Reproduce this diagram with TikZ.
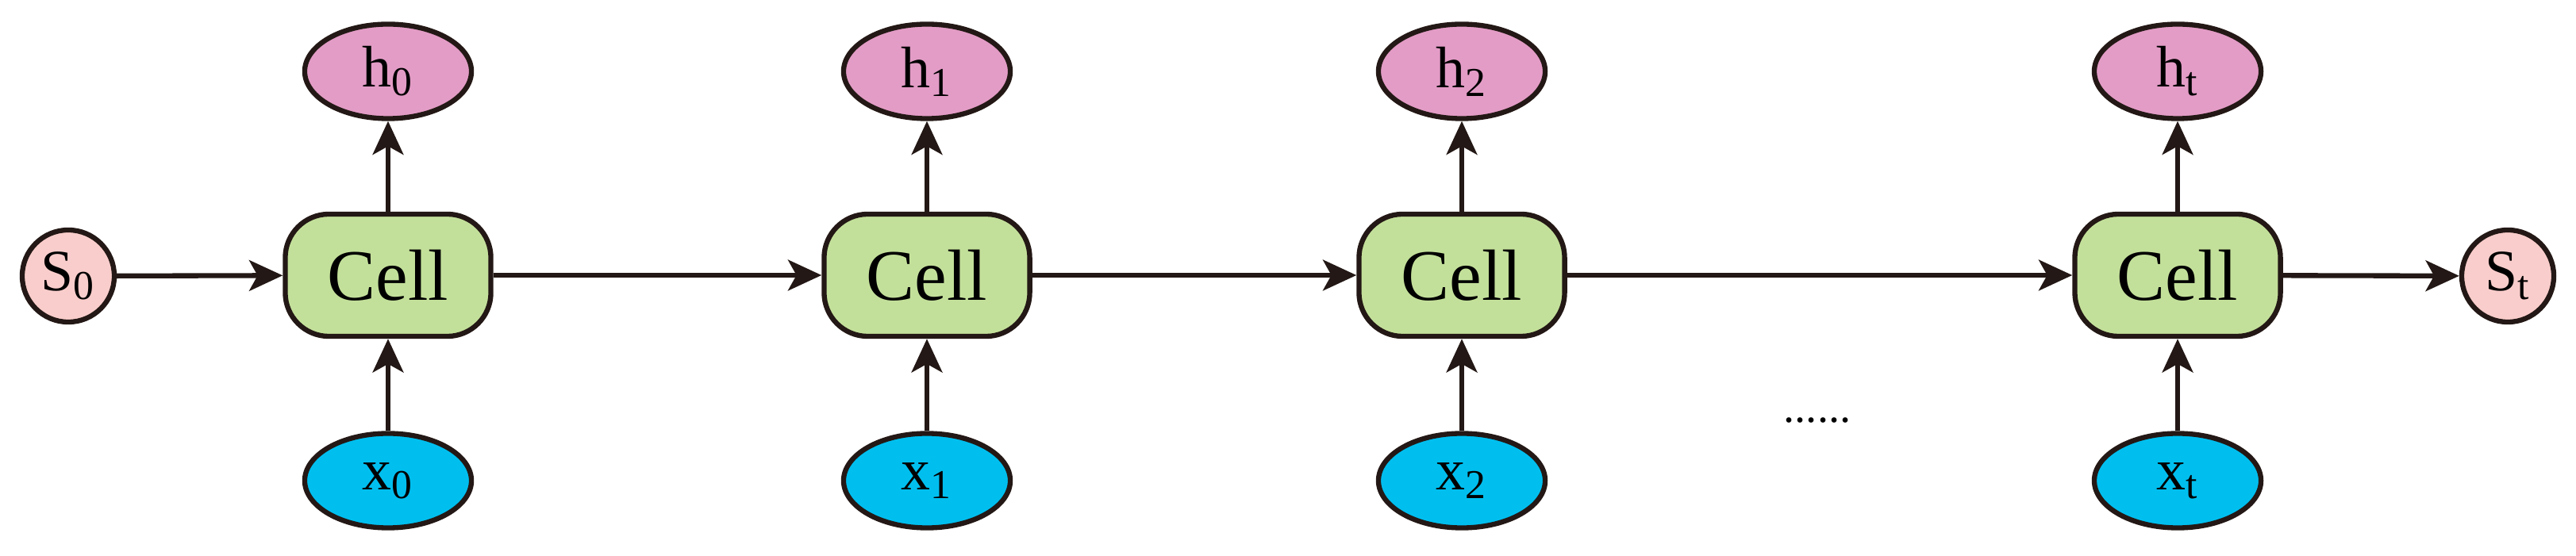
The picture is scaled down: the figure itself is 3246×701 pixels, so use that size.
\documentclass[tikz,border=0pt]{standalone}
\usetikzlibrary{shapes.geometric,arrows.meta}
\usepackage{fontspec}
\setmainfont{Liberation Serif}
\begin{document}
\begin{tikzpicture}[x=0.01cm,y=-0.01cm,
  ln/.style={draw=lc,line width=1.8pt},
  cell/.style={ln,fill=cellc,rounded corners=0.55cm,minimum width=2.59cm,minimum height=1.54cm,font=\fontsize{26}{26}\selectfont},
  hn/.style={ln,ellipse,fill=hc,minimum width=2.1cm,minimum height=1.19cm,inner sep=0pt,font=\fontsize{21}{21}\selectfont},
  xn/.style={hn,fill=xc},
  sn/.style={ln,circle,fill=sc,minimum size=1.16cm,inner sep=0pt,font=\fontsize{21}{21}\selectfont},
  arr/.style={draw=lc,line width=1.8pt,-{Stealth[length=12pt,width=11pt,inset=3pt]}}]
\definecolor{lc}{HTML}{231815}
\definecolor{cellc}{HTML}{C3E09A}
\definecolor{hc}{HTML}{E39CC6}
\definecolor{xc}{HTML}{00BFEF}
\definecolor{sc}{HTML}{F9CDCB}
\useasboundingbox (0,0) rectangle (3246,701);
\node[sn] (s0) at (86,348) {S$_{\mathrm{0}}$};
\node[sn] (st) at (3160,348) {S$_{\mathrm{t}}$};
\foreach \n/\x/\s in {0/489/0,1/1168/1,2/1842/2,3/2744/t}{
  \node[cell] (c\n) at (\x,347) {Cell};
  \node[hn] (h\n) at (\x,90) {h$_{\mathrm{\s}}$};
  \node[xn] (x\n) at (\x,606) {x$_{\mathrm{\s}}$};
  \draw[arr] (c\n) -- (h\n);
  \draw[arr] (x\n) -- (c\n);
}
\draw[arr] (s0) -- (c0);
\draw[arr] (c0) -- (c1);
\draw[arr] (c1) -- (c2);
\draw[arr] (c2) -- (c3);
\draw[arr] (c3) -- (st);
\node[font=\fontsize{16}{16}\selectfont] (dots) at (2290,530) {......};
\end{tikzpicture}
\end{document}
